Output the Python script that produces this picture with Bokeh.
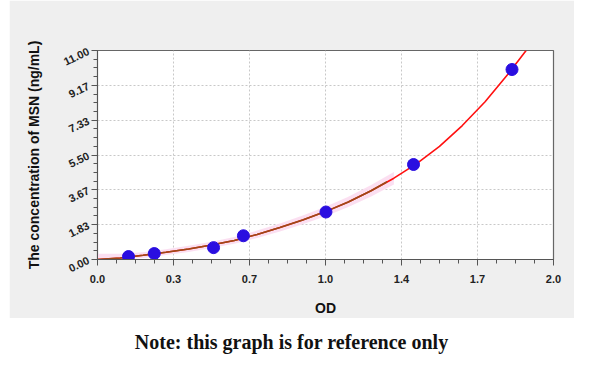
import math
from bokeh.plotting import figure
from bokeh.models import FixedTicker, Div
from bokeh.layouts import column
from bokeh.embed import file_html
from bokeh.resources import INLINE

# ---- data ----
od = [0.136, 0.249, 0.509, 0.640, 1.002, 1.386, 1.818]
conc = [0.156, 0.313, 0.625, 1.25, 2.5, 5.0, 10.0]

curve_x = [0.0, 0.1, 0.2, 0.3, 0.4, 0.5, 0.6, 0.7, 0.8, 0.9, 1.0, 1.1, 1.2, 1.3,
           1.4, 1.5, 1.6, 1.7, 1.8, 1.88]
curve_y = [0.0, 0.08, 0.22, 0.38, 0.55, 0.76, 1.0, 1.32, 1.68, 2.08, 2.52, 3.03,
           3.62, 4.28, 5.05, 5.95, 7.05, 8.3, 9.75, 11.0]

brown_x = [0.0, 0.1, 0.2, 0.3, 0.4, 0.5, 0.6, 0.7, 0.8, 0.9, 1.0, 1.1, 1.2, 1.27]
brown_y = [0.0, 0.08, 0.22, 0.38, 0.55, 0.76, 1.0, 1.32, 1.68, 2.08, 2.52, 3.03,
           3.62, 4.09]

band_x = [0.0, 0.1, 0.2, 0.3, 0.4, 0.5, 0.6, 0.7, 0.8, 0.9, 1.0, 1.1, 1.2, 1.3]
band_lo = [0.0, 0.0, 0.08, 0.24, 0.4, 0.6, 0.83, 1.13, 1.48, 1.86, 2.28, 2.76, 3.32, 3.95]
band_hi = [0.3, 0.3, 0.38, 0.54, 0.72, 0.94, 1.18, 1.52, 1.9, 2.32, 2.78, 3.3, 3.92, 4.6]

x_ticks = [0.0, 1/3, 2/3, 1.0, 4/3, 5/3, 2.0]
x_labels = ["0.0", "0.3", "0.7", "1.0", "1.4", "1.7", "2.0"]
y_ticks = [0.0, 11/6, 11/3, 5.5, 22/3, 55/6, 11.0]
y_labels = ["0.00", "1.83", "3.67", "5.50", "7.33", "9.17", "11.00"]

GRAY = "#efefef"
FONT = "Liberation Sans"

p = figure(width=565, height=318, x_range=(0, 2.0), y_range=(0, 11.0),
           output_backend="svg", toolbar_location=None,
           background_fill_color="white", border_fill_color=GRAY,
           min_border_left=88, min_border_right=21, min_border_top=50,
           min_border_bottom=56)
p.outline_line_color = "#666666"
p.outline_line_width = 1.2

x_minor = [i / 12 for i in range(25)]
y_minor = [i * 11 / 24 for i in range(25)]
p.xaxis.ticker = FixedTicker(ticks=x_ticks, minor_ticks=x_minor)
p.yaxis.ticker = FixedTicker(ticks=y_ticks, minor_ticks=y_minor)
p.xaxis.major_label_overrides = {t: l for t, l in zip(x_ticks, x_labels)}
p.yaxis.major_label_overrides = {t: l for t, l in zip(y_ticks, y_labels)}

for ax in (p.xaxis, p.yaxis):
    ax.axis_line_color = "#555555"
    ax.major_tick_line_color = "#555555"
    ax.minor_tick_line_color = "#555555"
    ax.major_tick_in = 0
    ax.major_tick_out = 6
    ax.minor_tick_in = 0
    ax.minor_tick_out = 4
    ax.major_label_text_font = FONT
    ax.major_label_text_font_style = "bold"
    ax.major_label_text_font_size = "11px"
    ax.major_label_text_color = "#222222"
    ax.axis_label_text_font = FONT
    ax.axis_label_text_font_style = "bold"
    ax.axis_label_text_font_size = "14px"
    ax.axis_label_text_color = "#111111"

p.xaxis.axis_label = "OD"
p.xaxis.major_label_standoff = 9
p.xaxis.axis_label_standoff = 14
p.yaxis.axis_label = "The concentration of MSN (ng/mL)"
p.yaxis.major_label_orientation = math.pi / 7
p.yaxis.major_label_standoff = 3
p.yaxis.axis_label_standoff = 16

p.grid.grid_line_color = "#c8c8c8"
p.grid.grid_line_dash = "2 2"
p.grid.grid_line_width = 1

p.varea(x=band_x, y1=band_lo, y2=band_hi, fill_color="#fbdcef", fill_alpha=0.9)
p.line(curve_x, curve_y, line_color="#ff1010", line_width=1.6)
p.line(brown_x, brown_y, line_color="#9a4a18", line_width=1.6)
p.scatter(od, conc, size=12, fill_color="#2a0ee0", line_color="#2a0ee0")

note = Div(text="Note: this graph is for reference only", width=565, height=45,
           styles={"font-family": "Liberation Serif", "font-weight": "bold",
                   "font-size": "20px", "color": "#111", "text-align": "center",
                   "width": "565px", "padding-top": "5px", "padding-right": "10px"})

layout = column(p, note, spacing=0)
layout.margin = (0, 0, 0, 9)
open("out.html", "w").write(file_html(layout, INLINE))
